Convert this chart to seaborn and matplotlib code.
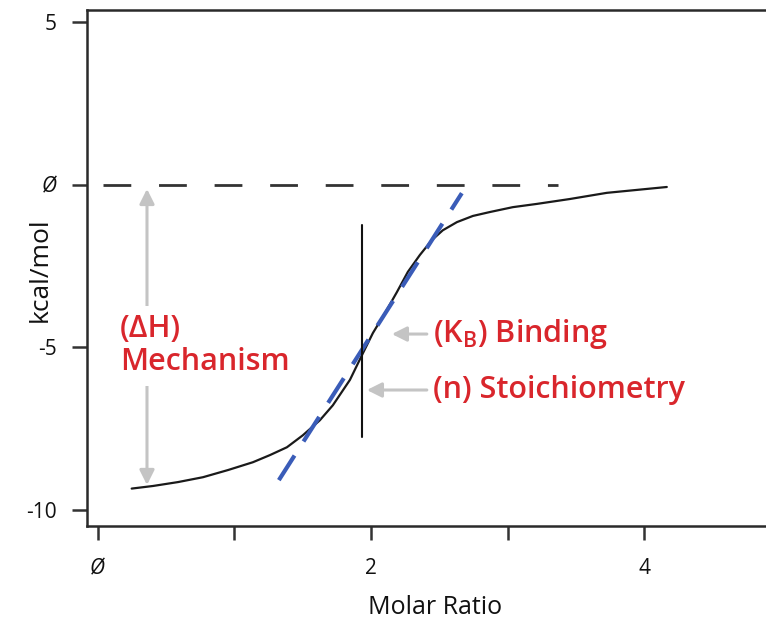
import matplotlib
matplotlib.use("Agg")
import matplotlib.pyplot as plt
import pandas as pd
import seaborn as sns

# ---------------------------------------------------------------
# data (molar ratio vs kcal/mol)
# ---------------------------------------------------------------
ratio = [0.248, 0.404, 0.587, 0.770, 0.953, 1.135, 1.260, 1.384, 1.501,
         1.625, 1.720, 1.845, 1.933, 2.013, 2.101, 2.189, 2.269, 2.357,
         2.445, 2.525, 2.628, 2.745, 2.869, 3.037, 3.213, 3.454, 3.725, 4.164]
heat = [-9.34, -9.26, -9.14, -8.99, -8.77, -8.53, -8.31, -8.07, -7.70,
        -7.24, -6.78, -6.00, -5.24, -4.56, -3.95, -3.30, -2.68, -2.16,
        -1.70, -1.40, -1.15, -0.96, -0.84, -0.69, -0.59, -0.44, -0.25, -0.07]

slope_x = [1.325, 2.664]          # tangent at the inflection point
slope_y = [-9.08, -0.26]
baseline_x = [0.04, 3.37]         # zero-heat reference line
baseline_y = [0.0, 0.0]
n_ratio = 1.933                   # stoichiometry marker
n_span = [-7.76, -1.24]
dh_top, dh_bottom = -0.13, -9.23  # enthalpy arrow span

x_ticks = [0, 1, 2, 3, 4]
x_ticklabels = ["Ø", "", "2", "", "4"]
y_ticks = [5, 0, -5, -10]
y_ticklabels = ["5", "Ø", "-5", "-10"]

RED = "#d9262c"
GREY = "#c4c4c4"
INK = "#2a2a2a"

sns.set_theme(style="white")
plt.rcParams["font.family"] = ["Open Sans", "DejaVu Sans"]

fig = plt.figure(figsize=(7.66, 6.26), dpi=100)
ax = fig.add_axes([87 / 766, 1 - 526 / 626, 1 - 87 / 766, 516 / 626])

curve = pd.DataFrame({"ratio": ratio, "heat": heat})
sns.lineplot(data=curve, x="ratio", y="heat", sort=False, color="#1a1a1a",
             lw=1.6, ax=ax)
sns.lineplot(x=slope_x, y=slope_y, color="#3a5cb8", lw=3.0, ax=ax,
             dashes=False).lines[-1].set_dashes([7, 4])
ax.plot(baseline_x, baseline_y, color="#333333", lw=2.0, dashes=[10, 10])
ax.plot([n_ratio, n_ratio], n_span, color="#111111", lw=1.5)

# arrows
ax.annotate("", xy=(0.36, dh_top), xytext=(0.36, dh_bottom),
            arrowprops=dict(arrowstyle="<|-|>", color=GREY, lw=2.2,
                            mutation_scale=22, shrinkA=0, shrinkB=0))
ax.annotate("", xy=(2.152, -4.59), xytext=(2.408, -4.59),
            arrowprops=dict(arrowstyle="-|>", color=GREY, lw=2.2,
                            mutation_scale=22, shrinkA=0, shrinkB=0))
ax.annotate("", xy=(1.969, -6.31), xytext=(2.408, -6.31),
            arrowprops=dict(arrowstyle="-|>", color=GREY, lw=2.2,
                            mutation_scale=22, shrinkA=0, shrinkB=0))

# red labels
ax.text(0.16, -4.95, "(ΔH)\nMechanism", color=RED, fontsize=22,
        fontweight="semibold", ha="left", va="center", linespacing=1.15,
        bbox=dict(facecolor="white", edgecolor="none", pad=6))
ax.text(2.45, -4.59, r"(K$_\mathregular{B}$) Binding", color=RED, fontsize=22,
        fontweight="semibold", ha="left", va="center")
ax.text(2.45, -6.31, "(n) Stoichiometry", color=RED, fontsize=22,
        fontweight="semibold", ha="left", va="center")

ax.set_xlim(-0.079, 4.89)
ax.set_ylim(-10.49, 5.37)
ax.set_xticks(x_ticks)
ax.set_xticklabels(x_ticklabels)
ax.set_yticks(y_ticks)
ax.set_yticklabels(y_ticklabels)
ax.set_xlabel("")
ax.set_ylabel("")

for side in ["left", "top", "bottom"]:
    ax.spines[side].set_color(INK)
    ax.spines[side].set_linewidth(1.8)
ax.spines["right"].set_visible(False)
ax.tick_params(axis="x", length=10, width=1.8, color="#333333", pad=13,
               labelsize=15, labelcolor="#111111", direction="out", bottom=True)
ax.tick_params(axis="y", length=11, width=1.8, color="#333333", pad=11,
               labelsize=15, labelcolor="#111111", direction="out", left=True)
for lab in ax.get_xticklabels() + ax.get_yticklabels():
    if lab.get_text() == "Ø":
        lab.set_fontstyle("italic")

fig.text(435 / 766, 1 - 608 / 626, "Molar Ratio", fontsize=18, ha="center",
         va="center", color="#111111")
fig.text(40 / 766, 1 - 270 / 626, "kcal/mol", fontsize=19, ha="center",
         va="center", rotation=90, color="#111111")

fig.savefig("out.png", dpi=100)
